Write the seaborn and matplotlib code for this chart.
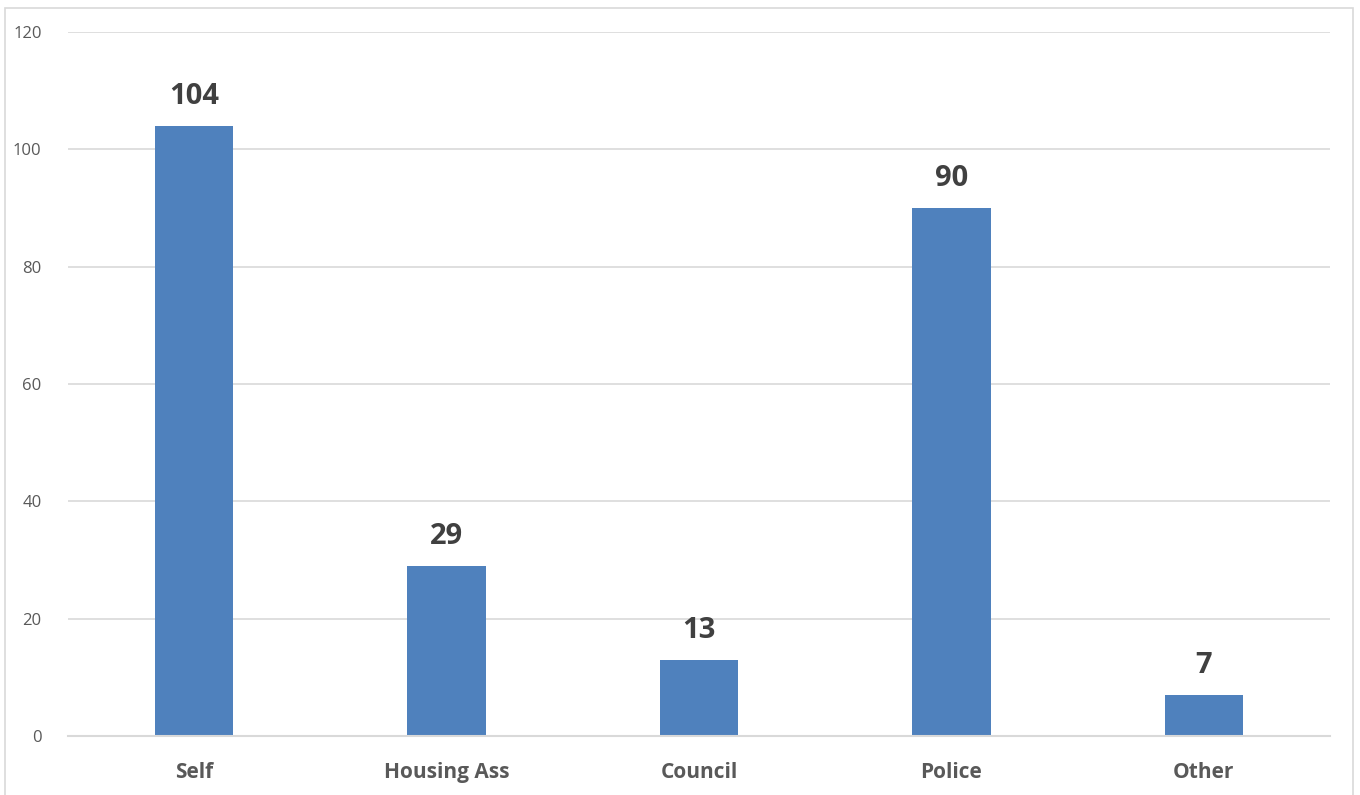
import matplotlib
matplotlib.use("Agg")
import matplotlib.pyplot as plt
import seaborn as sns
import pandas as pd
from matplotlib.patches import Rectangle

categories = ["Self", "Housing Ass", "Council", "Police", "Other"]
counts = [104, 29, 13, 90, 7]
y_ticks = [0, 20, 40, 60, 80, 100, 120]

sns.set_theme(style="white")
plt.rcParams["font.family"] = ["Open Sans", "DejaVu Sans"]

fig = plt.figure(figsize=(13.6, 7.95), dpi=100)
ax = fig.add_axes([0.05, 0.0742, 0.928, 0.8855])

df = pd.DataFrame({"Category": categories, "Count": counts})

sns.barplot(data=df, x="Category", y="Count", color="#4F81BD",
            saturation=1, width=0.31, linewidth=0, ax=ax)

# Gridlines
ax.set_ylim(0, 120)
ax.set_xlim(-0.5, len(categories) - 0.5)
ax.set_yticks(y_ticks)
ax.yaxis.grid(True, color="#D9D9D9", linewidth=1.2)
ax.set_axisbelow(True)
for s in ["top", "right", "left"]:
    ax.spines[s].set_visible(False)
ax.spines["bottom"].set_color("#D9D9D9")
ax.spines["bottom"].set_linewidth(1.5)

ax.tick_params(axis="y", colors="#595959", labelsize=12, length=0, pad=19)
ax.tick_params(axis="x", colors="#595959", labelsize=15, length=0, pad=19)
for lbl in ax.get_xticklabels():
    lbl.set_fontweight("bold")
ax.set_xlabel("")
ax.set_ylabel("")

# Value labels
for i, v in enumerate(counts):
    ax.text(i, v + 2.5, str(v), ha="center", va="bottom", fontsize=21,
            fontweight="bold", color="#404040")

# Outer chart border
fig.patches.append(Rectangle((5 / 1360, -0.01), 1348 / 1360, 1 - 8 / 795 + 0.01,
                             transform=fig.transFigure, fill=False,
                             edgecolor="#D9D9D9", linewidth=1.2))

fig.savefig("out.png", dpi=100, facecolor="white")
